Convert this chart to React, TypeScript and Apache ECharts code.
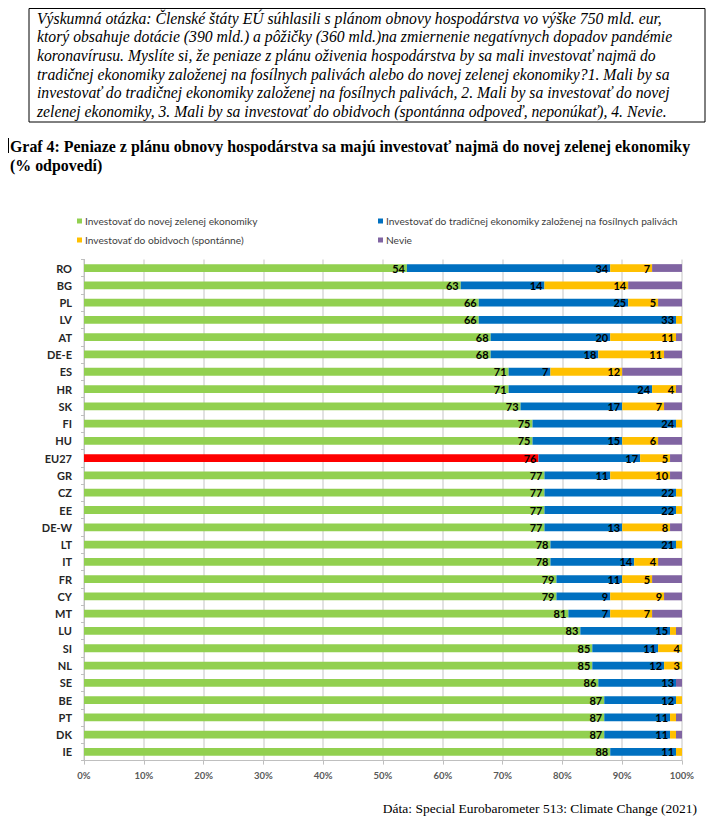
import React, { useEffect, useRef } from "react";
import * as echarts from "echarts";

const categories = ["RO","BG","PL","LV","AT","DE-E","ES","HR","SK","FI","HU","EU27","GR","CZ","EE","DE-W","LT","IT","FR","CY","MT","LU","SI","NL","SE","BE","PT","DK","IE"];
const greenValues = [54,63,66,66,68,68,71,71,73,75,75,76,77,77,77,77,78,78,79,79,81,83,85,85,86,87,87,87,88];
const blueValues = [34,14,25,33,20,18,7,24,17,24,15,17,11,22,22,13,21,14,11,9,7,15,11,12,13,12,11,11,11];
const yellowValues = [7,14,5,1,11,11,12,4,7,1,6,5,10,1,1,8,1,4,5,9,7,1,4,3,0,1,1,1,1];
const nevieValues = [5,9,4,0,1,3,10,1,3,0,4,2,2,0,0,2,0,4,5,3,5,1,0,0,1,0,1,1,0];
const xTicks = [0,10,20,30,40,50,60,70,80,90,100];

const seriesNames = [
  "Investovať do novej zelenej ekonomiky",
  "Investovať do tradičnej ekonomiky založenej na fosílnych palivách",
  "Investovať do obidvoch (spontánne)",
  "Nevie",
];
const highlightCategory = "EU27";

const questionLines = [
  "Výskumná otázka: Členské štáty EÚ súhlasili s plánom obnovy hospodárstva vo výške 750 mld. eur,",
  "ktorý obsahuje dotácie (390 mld.) a pôžičky (360 mld.)na zmiernenie negatívnych dopadov pandémie",
  "koronavírusu. Myslíte si, že peniaze z plánu oživenia hospodárstva by sa mali investovať najmä do",
  "tradičnej ekonomiky založenej na fosílnych palivách alebo do novej zelenej ekonomiky?1. Mali by sa",
  "investovať do tradičnej ekonomiky založenej na fosílnych palivách, 2. Mali by sa investovať do novej",
  "zelenej ekonomiky, 3. Mali by sa investovať do obidvoch (spontánna odpoveď, neponúkať), 4. Nevie.",
];
const titleLines = [
  "Graf 4: Peniaze z plánu obnovy hospodárstva sa majú investovať najmä do novej zelenej ekonomiky",
  "(% odpovedí)",
];
const sourceText = "Dáta: Special Eurobarometer 513: Climate Change (2021)";

const COLORS = ["#92D050", "#0070C0", "#FFC000", "#8064A2"];
const RED = "#FF0000";
const SANS = "Lato";
const SERIF = "Liberation Serif";

export default function App() {
  const ref = useRef<HTMLDivElement>(null);
  useEffect(() => {
    if (!ref.current) return;
    const chart = echarts.init(ref.current, null, { renderer: "svg" });
    const labelCfg = (show: boolean, minShown: number) => ({
      show,
      position: "insideRight",
      distance: 2,
      color: "#000",
      fontFamily: SANS,
      fontWeight: "bold",
      fontSize: 11,
      formatter: (p: any) => (p.value >= minShown ? String(p.value) : ""),
    });
    const valueSets = [greenValues, blueValues, yellowValues, nevieValues];
    const series = valueSets.map((vals, si) => ({
      name: seriesNames[si],
      type: "bar",
      stack: "total",
      barWidth: "45%",
      itemStyle: { color: COLORS[si] },
      label: labelCfg(si < 3, si === 2 ? 2 : 1),
      data: vals.map((v, i) =>
        si === 0 && categories[i] === highlightCategory
          ? { value: v, itemStyle: { color: RED } }
          : v
      ),
    }));

    const legendPos = [
      { left: 77, top: 214 },
      { left: 378, top: 214 },
      { left: 77, top: 233 },
      { left: 378, top: 233 },
    ];
    const legends = seriesNames.map((n, i) => ({
      left: legendPos[i].left,
      top: legendPos[i].top,
      data: [n],
      icon: "rect",
      itemWidth: 5,
      itemHeight: 5,
      padding: 0,
      itemGap: 4,
      selectedMode: false,
      textStyle: { fontFamily: SANS, fontSize: 10.2, color: "#404040", lineHeight: 14, padding: [0, 0, 0, -2] },
    }));

    const graphics: any[] = [
      {
        type: "rect",
        shape: { x: 29, y: 8.5, width: 676, height: 113.5 },
        style: { fill: "none", stroke: "#000", lineWidth: 1 },
      },
      ...questionLines.map((t, i) => ({
        type: "text",
        x: 37,
        y: 18 + i * 18.7,
        style: {
          text: t,
          fontFamily: SERIF,
          fontStyle: "italic",
          fontSize: 15.7,
          fill: "#000",
          textVerticalAlign: "middle",
        },
      })),
      {
        type: "line",
        shape: { x1: 8.5, y1: 138, x2: 8.5, y2: 153 },
        style: { stroke: "#000", lineWidth: 1 },
      },
      ...titleLines.map((t, i) => ({
        type: "text",
        x: 10,
        y: 146 + i * 19,
        style: {
          text: t,
          fontFamily: SERIF,
          fontWeight: "bold",
          fontSize: 15.9,
          fill: "#000",
          textVerticalAlign: "middle",
        },
      })),
      {
        type: "text",
        x: 697,
        y: 808,
        style: {
          text: sourceText,
          fontFamily: SERIF,
          fontSize: 13.5,
          fill: "#000",
          textAlign: "right",
          textVerticalAlign: "middle",
        },
      },
    ];

    chart.setOption({
      animation: false,
      backgroundColor: "#fff",
      legend: legends,
      grid: { left: 84, right: 46, top: 259.4, bottom: 71.4, containLabel: false },
      xAxis: {
        type: "value",
        min: xTicks[0],
        max: xTicks[xTicks.length - 1],
        interval: xTicks[1] - xTicks[0],
        axisLine: { show: true, lineStyle: { color: "#bfbfbf" } },
        axisTick: { show: true, length: 4, lineStyle: { color: "#bfbfbf" } },
        splitLine: { show: true, lineStyle: { color: "#d9d9d9", width: 1.5 } },
        axisLabel: {
          formatter: "{value}%",
          fontFamily: SANS,
          fontWeight: "bold",
          fontSize: 9.5,
          color: "#595959",
          margin: 10,
        },
      },
      yAxis: {
        type: "category",
        inverse: true,
        data: categories,
        axisLine: { show: true, lineStyle: { color: "#bfbfbf" } },
        axisTick: { show: true, length: 3, lineStyle: { color: "#bfbfbf" } },
        axisLabel: {
          fontFamily: SANS,
          fontWeight: "bold",
          fontSize: 11,
          color: "#262626",
          margin: 12,
        },
      },
      series,
      graphic: graphics,
    } as any);
    return () => chart.dispose();
  }, []);
  return (
    <div
      ref={ref}
      style={{ position: "absolute", left: 0, top: 0, width: 728, height: 832, background: "#fff" }}
    />
  );
}
